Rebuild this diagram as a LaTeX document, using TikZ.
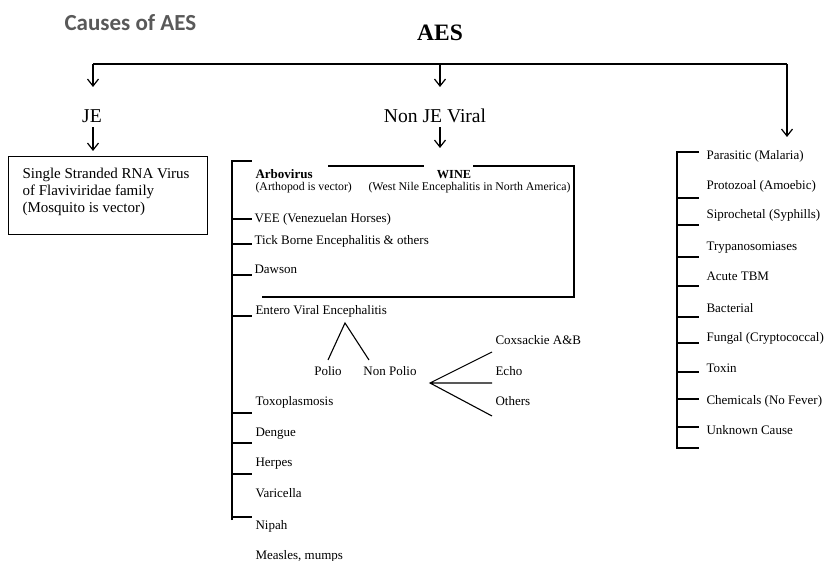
\documentclass[tikz,border=0pt]{standalone}
\usepackage{fontspec}
\setmainfont{Liberation Serif}
\newfontfamily\calfont{Carlito}
\usetikzlibrary{calc}
\usetikzlibrary{arrows.meta}
\definecolor{C7}{HTML}{595959}

\begin{document}
\begin{tikzpicture}[x=1pt, y=-1pt, line width=1.1pt,
  txt/.style={anchor=west, inner sep=0pt, text height=9pt, text depth=3pt, font=\fontsize{13}{15}\selectfont},
  small/.style={anchor=west, inner sep=0pt, text height=8pt, text depth=3pt, font=\fontsize{11.8}{14}\selectfont},
  head/.style={inner sep=0pt, text height=13pt, text depth=4pt, font=\fontsize{19.6}{22}\selectfont},
  down/.style={-{Straight Barb[length=7pt, width=11pt]}, line width=1.2pt}]
\useasboundingbox (0,0) rectangle (825,561);
%
\node[font=\calfont\bfseries\fontsize{23}{27}\selectfont, text=C7, anchor=west, inner sep=0pt] (title) at (64,23) {Causes of AES};
\node[font=\bfseries\fontsize{23.5}{27}\selectfont, inner sep=0pt] (aes) at (440,33) {AES};
\coordinate (split_l) at (93,64);
\coordinate (split_m) at (440,64);
\coordinate (split_r) at (787,64);
\coordinate (tip_je) at (93,87);
\coordinate (tip_nje) at (440,87);
\coordinate (tip_other) at (787,137);
\draw (split_l) -- (split_r);
\draw[down] (split_l) -- (tip_je);
\draw[down] (split_m) -- (tip_nje);
\draw[down] (split_r) -- (tip_other);
%
% JE
\node[head] (je) at (92,118) {JE};
\node[draw, minimum width=199pt, minimum height=78pt, anchor=north west, inner sep=0pt] (je_box) at (8,156) {};
\node[anchor=north west, align=left, inner sep=0pt, font=\fontsize{15}{17}\selectfont] (je_txt) at (22,168) {Single Stranded RNA Virus\\of Flaviviridae family\\(Mosquito is vector)};
\draw[down, shorten >=5pt] (je.south -| split_l) -- (je_box.north -| split_l);
%
% Non JE Viral
\node[head] (non_je) at (435,118) {Non JE Viral};
\coordinate (tip_list) at (440,148);
\draw[down] (non_je.south -| split_m) -- (tip_list);
\coordinate (nje_top) at (232,161);
\coordinate (nje_bot) at (232,520);
\draw (nje_bot) -- (nje_top) -- ++(20,0);
\draw (232,219) -- ++(20,0) (232,244) -- ++(20,0) (232,275) -- ++(20,0) (232,316) -- ++(20,0)
      (232,413) -- ++(20,0) (232,443) -- ++(20,0) (232,474) -- ++(20,0) (232,517) -- ++(20,0);
% arbovirus box, open at WINE
\draw (328,166) -- (424,166) (473,166) -- (574,166) -- (574,297) -- (262,297);
\node[txt, font=\bfseries\fontsize{13}{15}\selectfont] (arbo) at (255,176) {Arbovirus};
\node[small] (arbo_sub) at (255,188) {(Arthopod is vector)};
\node[inner sep=0pt, text height=9pt, text depth=3pt, font=\bfseries\fontsize{12.3}{14}\selectfont] (wine) at (454,176) {WINE};
\node[small] (wine_sub) at (368,188) {(West Nile Encephalitis in North America)};
\node[txt] (vee) at (254,220) {VEE (Venezuelan Horses)};
\node[txt] (tick) at (254,242) {Tick Borne Encephalitis \& others};
\node[txt] (dawson) at (254,271) {Dawson};
\node[txt] (entero) at (255,312) {Entero Viral Encephalitis};
% entero split
\node[inner sep=0pt, text height=9pt, text depth=3pt, font=\fontsize{13}{15}\selectfont] (polio) at (328,372) {Polio};
\node[inner sep=0pt, text height=9pt, text depth=3pt, font=\fontsize{13}{15}\selectfont] (non_polio) at (390,372) {Non Polio};
\coordinate (ent_fork) at (345,323);
\coordinate (polio_end) at (328,360);
\coordinate (np_end) at (369,360);
\draw (polio_end) -- (ent_fork) -- (np_end);
\node[txt] (cox) at (495,342) {Coxsackie A\&B};
\node[txt] (echo) at (495,372) {Echo};
\node[txt] (others) at (495,403) {Others};
\coordinate (np_fork) at (430,383);
\coordinate (cox_end) at (492,352);
\coordinate (echo_end) at (492,383);
\coordinate (others_end) at (492,416);
\draw (cox_end) -- (np_fork) -- (others_end) (np_fork) -- (echo_end);
\node[txt] (toxo) at (255,403) {Toxoplasmosis};
\node[txt] (dengue) at (255,433) {Dengue};
\node[txt] (herpes) at (255,463) {Herpes};
\node[txt] (varicella) at (255,494) {Varicella};
\node[txt] (nipah) at (255,526) {Nipah};
\node[txt] (measles) at (255,556) {Measles, mumps};
%
% other causes
\coordinate (oth_top) at (677,152);
\coordinate (oth_bot) at (677,448);
\draw ($(oth_top)+(22,0)$) -- (oth_top) -- (oth_bot) -- ++(22,0);
\draw (677,198) -- ++(22,0) (677,225) -- ++(22,0) (677,257) -- ++(22,0) (677,286) -- ++(22,0) (677,317) -- ++(22,0)
      (677,343) -- ++(22,0) (677,372) -- ++(22,0) (677,399) -- ++(22,0) (677,427) -- ++(22,0);
\node[txt] (parasitic) at (706,157) {Parasitic (Malaria)};
\node[txt] (protozoal) at (706,187) {Protozoal (Amoebic)};
\node[txt] (siprochetal) at (706,216) {Siprochetal (Syphills)};
\node[txt] (trypano) at (706,248) {Trypanosomiases};
\node[txt] (tbm) at (706,278) {Acute TBM};
\node[txt] (bacterial) at (706,310) {Bacterial};
\node[txt] (fungal) at (706,339) {Fungal (Cryptococcal)};
\node[txt] (toxin) at (706,370) {Toxin};
\node[txt] (chemicals) at (706,401) {Chemicals (No Fever)};
\node[txt] (unknown) at (706,432) {Unknown Cause};
\end{tikzpicture}
\end{document}
